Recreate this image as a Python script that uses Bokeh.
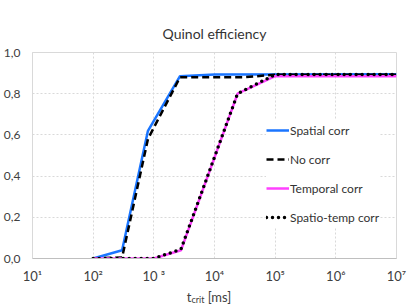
from bokeh.plotting import figure
from bokeh.models import FixedTicker, Legend, LegendItem, Div
from bokeh.layouts import column
from bokeh.embed import file_html
from bokeh.resources import INLINE

# ---- data ----
spatial_t = [100, 300, 800, 2700, 10000, 1e7]
spatial_eff = [0.0, 0.04, 0.62, 0.885, 0.893, 0.895]

nocorr_t = [100, 300, 800, 2700, 30000, 100000, 1e7]
nocorr_eff = [0.0, 0.005, 0.58, 0.88, 0.88, 0.892, 0.892]

temporal_t = [100, 1000, 2800, 24000, 100000, 1e7]
temporal_eff = [0.0, 0.0, 0.04, 0.80, 0.885, 0.885]

spatiotemp_t = [100, 1000, 2800, 24000, 100000, 1e7]
spatiotemp_eff = [0.0, 0.0, 0.045, 0.80, 0.893, 0.893]

x_ticks = [10, 100, 1000, 10000, 100000, 1000000, 10000000]
x_tick_labels = ["10\u00b9", "10\u00b2", "10 \u00b3", "10\u2074", "10\u2075", "10\u2076", "10\u2077"]
y_ticks = [0.0, 0.2, 0.4, 0.6, 0.8, 1.0]
y_tick_labels = ["0,0", "0,2", "0,4", "0,6", "0,8", "1,0"]

FONT = "Lato"

p = figure(width=416, height=287, x_axis_type="log", x_range=(10, 1e7), y_range=(0, 1),
           output_backend="svg", toolbar_location=None,
           min_border_left=31, min_border_right=20, min_border_top=52, min_border_bottom=29)

p.title.text = "Quinol efficiency"
p.title.align = "center"
p.title.text_font = FONT
p.title.text_font_size = "14px"
p.title.text_font_style = "normal"
p.title.text_color = "#333333"
p.title.standoff = 21

p.outline_line_color = "#d9d9d9"
p.background_fill_color = "white"
p.border_fill_color = "white"

# axes
p.xaxis.ticker = FixedTicker(ticks=x_ticks)
p.xaxis.major_label_overrides = {t: l for t, l in zip(x_ticks, x_tick_labels)}
p.yaxis.ticker = FixedTicker(ticks=y_ticks)
p.yaxis.major_label_overrides = {t: l for t, l in zip(y_ticks, y_tick_labels)}
for ax in (p.xaxis, p.yaxis):
    ax.major_tick_line_color = None
    ax.minor_tick_line_color = None
    ax.major_tick_out = 0
    ax.major_tick_in = 0
    ax.minor_tick_out = 0
    ax.minor_tick_in = 0
    ax.major_label_text_font = FONT
    ax.major_label_text_color = "#404040"
p.xaxis.major_label_text_font_size = "13px"
p.yaxis.major_label_text_font_size = "12px"
p.xaxis.axis_line_color = "#bfbfbf"
p.yaxis.axis_line_color = "#d9d9d9"
p.xaxis.major_label_standoff = 9
p.yaxis.major_label_standoff = 12

p.xgrid.grid_line_color = "#d9d9d9"
p.xgrid.grid_line_dash = "2 2"
p.ygrid.grid_line_color = "#d9d9d9"
p.ygrid.grid_line_dash = "2 2"
p.xgrid.ticker = FixedTicker(ticks=x_ticks)
p.ygrid.ticker = FixedTicker(ticks=y_ticks)

# series
r1 = p.line(spatial_t, spatial_eff, line_color="#1a75ff", line_width=2.5)
r2 = p.line(nocorr_t, nocorr_eff, line_color="black", line_width=2.5, line_dash="7 4")
r3 = p.line(temporal_t, temporal_eff, line_color="#ff40ff", line_width=2.5)
r4 = p.line(spatiotemp_t, spatiotemp_eff, line_color="black", line_width=3.5,
            line_dash="0 6", line_cap="round")

legend = Legend(items=[
    LegendItem(label="Spatial corr", renderers=[r1]),
    LegendItem(label="No corr", renderers=[r2]),
    LegendItem(label="Temporal corr", renderers=[r3]),
    LegendItem(label="Spatio-temp corr", renderers=[r4]),
], location=(234, 31))
legend.border_line_color = None
legend.background_fill_color = "white"
legend.background_fill_alpha = 1.0
legend.padding = 0
legend.margin = 0
legend.spacing = 9
legend.glyph_width = 23
legend.glyph_height = 20
legend.label_height = 20
legend.label_standoff = 1
legend.label_text_font = FONT
legend.label_text_font_size = "12px"
legend.label_text_color = "#333333"
p.add_layout(legend, "center")

# x-axis title with subscript (HTML text)
xlabel = Div(
    text=('<div style="font-family:Lato;font-size:13px;color:#404040;text-align:center;'
          'width:416px;line-height:20px;padding-left:2px">t<span style="font-size:9px;'
          'position:relative;top:1px">crit</span> [ms]</div>'),
    width=416, height=20, margin=0)

layout = column(p, xlabel, spacing=0)
open("out.html", "w").write(file_html(layout, INLINE))
